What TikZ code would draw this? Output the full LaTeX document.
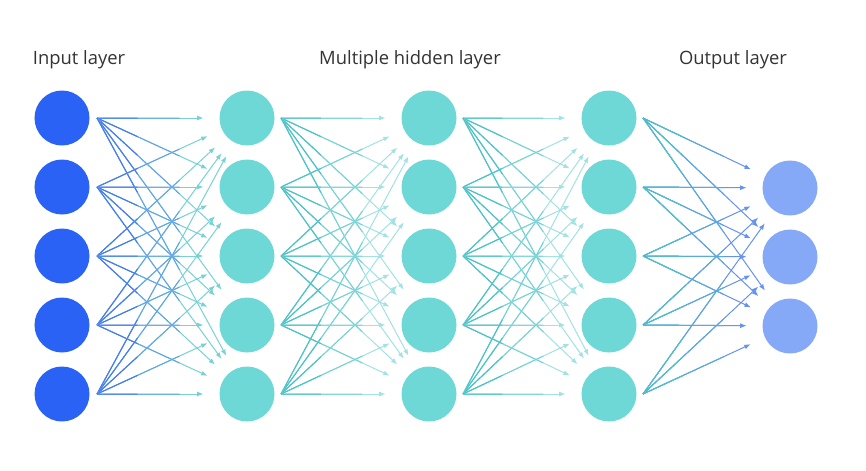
\documentclass[tikz,border=0pt]{standalone}
\usepackage{fontspec}
\setmainfont{Open Sans}
\usetikzlibrary{arrows.meta,calc}
\definecolor{inblue}{HTML}{2962F5}
\definecolor{hidteal}{HTML}{6ED8D6}
\definecolor{outblue}{HTML}{85A9F6}
\definecolor{txt}{HTML}{333333}
\definecolor{lnblue}{HTML}{4A7AF0}
\definecolor{lnbmid}{HTML}{64A2E8}
\definecolor{lnteal}{HTML}{4CC2C6}
\definecolor{lnmteal}{HTML}{78D2D5}
\definecolor{lnlteal}{HTML}{A3E2E3}
\definecolor{lnoblue}{HTML}{6693F0}
\definecolor{lnomid}{HTML}{5AAADC}
\newcommand\gconn[5]{%
  \draw[conn,draw=#5,fill=#5] (#1) -- (#2.center);
  \draw[part,draw=#4] (#1) -- ($(#1)!0.55!(#2.center)$);
  \draw[part,draw=#3] (#1) -- ($(#1)!0.27!(#2.center)$);
}
\begin{document}
\begin{tikzpicture}[x=0.03cm,y=-0.03cm,
  neuron/.style={circle,minimum size=1.65cm,inner sep=0pt,draw=none},
  innode/.style={neuron,fill=inblue},
  hidnode/.style={neuron,fill=hidteal},
  outnode/.style={neuron,fill=outblue},
  conn/.style={line width=0.85pt,-{Latex[length=5.5pt,width=4.2pt]},shorten >=37pt},
  part/.style={line width=0.85pt},
  lbl/.style={text=txt,font=\fontsize{15.7}{19}\selectfont,anchor=base}]
\useasboundingbox (0,0) rectangle (866,470);
% labels
\node[lbl] (lin) at (79,64) {Input layer};
\node[lbl] (lhid) at (410,64) {Multiple hidden layer};
\node[lbl] (lout) at (733,64) {Output layer};
% neurons
\foreach \k/\y in {1/118,2/187,3/256,4/325,5/394}{
  \node[innode] (i\k) at (62,\y) {};
  \node[hidnode] (a\k) at (247,\y) {};
  \node[hidnode] (b\k) at (429,\y) {};
  \node[hidnode] (c\k) at (609,\y) {};
  \coordinate (io\k) at ($(i\k.center)+(35,0)$);
  \coordinate (ao\k) at ($(a\k.center)+(34,0)$);
  \coordinate (bo\k) at ($(b\k.center)+(34,0)$);
  \coordinate (co\k) at ($(c\k.center)+(34,0)$);
}
\foreach \k/\y in {1/188,2/257,3/326}{
  \node[outnode] (o\k) at (790,\y) {};
}
% connections
\foreach \s in {1,...,5}{
  \foreach \t in {1,...,5}{
    \gconn{io\s}{a\t}{lnblue}{lnbmid}{lnmteal}
    \gconn{ao\s}{b\t}{lnteal}{lnmteal}{lnlteal}
    \gconn{bo\s}{c\t}{lnteal}{lnmteal}{lnlteal}
  }
  \foreach \t in {1,2,3}{
    \gconn{co\s}{o\t}{lnteal}{lnomid}{lnoblue}
  }
}
\end{tikzpicture}
\end{document}
